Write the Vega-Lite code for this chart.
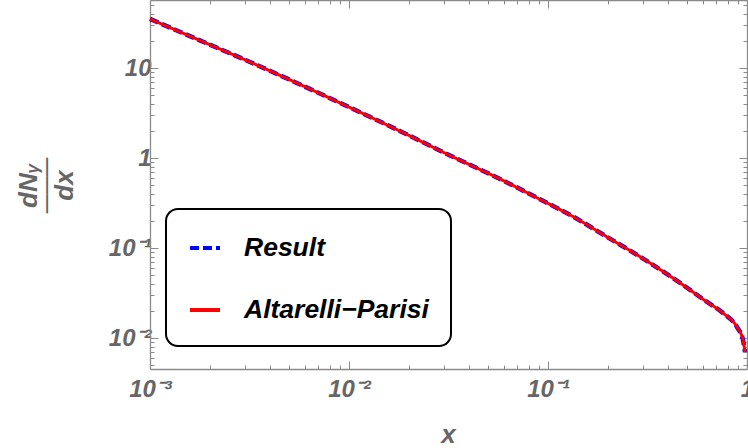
{
  "$schema": "https://vega.github.io/schema/vega-lite/v6.json",
  "width": 597,
  "height": 369,
  "autosize": {"type": "none"},
  "padding": {"left": 150, "top": 0, "right": 1, "bottom": 79},
  "background": "white",
  "config": {
    "view": {"stroke": null},
    "font": "Liberation Sans",
    "axis": {
      "grid": false,
      "domainColor": "#8a8a8a",
      "domainWidth": 1.3,
      "tickColor": "#8a8a8a",
      "tickWidth": 1,
      "labelFont": "Liberation Sans",
      "labelFontSize": 24,
      "labelFontStyle": "italic",
      "labelFontWeight": "bold",
      "labelColor": "#666666",
      "labelOverlap": false,
      "labelFlush": false,
      "titleFont": "Liberation Sans",
      "titleFontSize": 26,
      "titleFontStyle": "italic",
      "titleFontWeight": "bold",
      "titleColor": "#666666"
    },
    "legend": {"strokeWidth": 2}
  },
  "data": {
    "values": [
      {"x": 0.001, "y": 35.3, "series": "Result"},
      {"x": 0.00178, "y": 20.4, "series": "Result"},
      {"x": 0.00318, "y": 11.75, "series": "Result"},
      {"x": 0.00568, "y": 6.61, "series": "Result"},
      {"x": 0.0101, "y": 3.67, "series": "Result"},
      {"x": 0.018, "y": 2.01, "series": "Result"},
      {"x": 0.0322, "y": 1.074, "series": "Result"},
      {"x": 0.0574, "y": 0.589, "series": "Result"},
      {"x": 0.0912, "y": 0.35, "series": "Result"},
      {"x": 0.134, "y": 0.2244, "series": "Result"},
      {"x": 0.197, "y": 0.1346, "series": "Result"},
      {"x": 0.29, "y": 0.0807, "series": "Result"},
      {"x": 0.4266, "y": 0.0464, "series": "Result"},
      {"x": 0.627, "y": 0.0255, "series": "Result"},
      {"x": 0.757, "y": 0.0191, "series": "Result"},
      {"x": 0.891, "y": 0.0133, "series": "Result"},
      {"x": 0.955, "y": 0.00957, "series": "Result"},
      {"x": 0.977, "y": 0.00705, "series": "Result"},
      {"x": 0.001, "y": 35.3, "series": "Altarelli−Parisi"},
      {"x": 0.00178, "y": 20.4, "series": "Altarelli−Parisi"},
      {"x": 0.00318, "y": 11.75, "series": "Altarelli−Parisi"},
      {"x": 0.00568, "y": 6.61, "series": "Altarelli−Parisi"},
      {"x": 0.0101, "y": 3.67, "series": "Altarelli−Parisi"},
      {"x": 0.018, "y": 2.01, "series": "Altarelli−Parisi"},
      {"x": 0.0322, "y": 1.074, "series": "Altarelli−Parisi"},
      {"x": 0.0574, "y": 0.589, "series": "Altarelli−Parisi"},
      {"x": 0.0912, "y": 0.35, "series": "Altarelli−Parisi"},
      {"x": 0.134, "y": 0.2244, "series": "Altarelli−Parisi"},
      {"x": 0.197, "y": 0.1346, "series": "Altarelli−Parisi"},
      {"x": 0.29, "y": 0.0807, "series": "Altarelli−Parisi"},
      {"x": 0.4266, "y": 0.0464, "series": "Altarelli−Parisi"},
      {"x": 0.627, "y": 0.0255, "series": "Altarelli−Parisi"},
      {"x": 0.757, "y": 0.0191, "series": "Altarelli−Parisi"},
      {"x": 0.891, "y": 0.0133, "series": "Altarelli−Parisi"},
      {"x": 0.955, "y": 0.00957, "series": "Altarelli−Parisi"},
      {"x": 0.977, "y": 0.00705, "series": "Altarelli−Parisi"}
    ]
  },
  "layer": [
    {
      "transform": [{"filter": "datum.series === 'Result'"}],
      "mark": {"type": "line", "strokeOpacity": 0},
      "encoding": {
        "x": {"field": "x", "type": "quantitative",
          "scale": {"type": "log", "domain": [0.001, 1], "nice": false},
          "axis": {"orient": "bottom", "values": [0.002,0.003,0.004,0.005,0.006,0.007,0.008,0.009,0.02,0.03,0.04,0.05,0.06,0.07,0.08,0.09,0.2,0.3,0.4,0.5,0.6,0.7,0.8,0.9], "labels": false, "domain": false, "tickSize": -4, "title": null}},
        "y": {"field": "y", "type": "quantitative",
          "scale": {"type": "log", "domain": [0.00456, 57.3], "nice": false},
          "axis": {"orient": "left", "values": [0.005,0.006,0.007,0.008,0.009,0.02,0.03,0.04,0.05,0.06,0.07,0.08,0.09,0.2,0.3,0.4,0.5,0.6,0.7,0.8,0.9,2,3,4,5,6,7,8,9,20,30,40,50], "labels": false, "domain": false, "tickSize": -4, "title": null}}
      }
    },
    {
      "transform": [{"filter": "datum.series === 'Result'"}],
      "mark": {"type": "line", "strokeOpacity": 0},
      "encoding": {
        "x": {"field": "x", "type": "quantitative",
          "axis": {"orient": "top", "values": [0.002,0.003,0.004,0.005,0.006,0.007,0.008,0.009,0.02,0.03,0.04,0.05,0.06,0.07,0.08,0.09,0.2,0.3,0.4,0.5,0.6,0.7,0.8,0.9], "labels": false, "domain": false, "tickSize": -4, "title": null}},
        "y": {"field": "y", "type": "quantitative",
          "axis": {"orient": "right", "values": [0.005,0.006,0.007,0.008,0.009,0.02,0.03,0.04,0.05,0.06,0.07,0.08,0.09,0.2,0.3,0.4,0.5,0.6,0.7,0.8,0.9,2,3,4,5,6,7,8,9,20,30,40,50], "labels": false, "domain": false, "tickSize": -4, "title": null}}
      }
    },
    {
      "transform": [{"filter": "datum.series === 'Result'"}],
      "mark": {"type": "line", "strokeWidth": 4.5, "interpolate": "monotone"},
      "encoding": {
        "x": {"field": "x", "type": "quantitative",
          "axis": {"orient": "bottom", "values": [0.001, 0.01, 0.1, 1], "tickSize": -8, "labelPadding": 16,
            "labelExpr": "datum.value > 0.5 ? '1' : datum.value > 0.05 ? '10⁻¹' : datum.value > 0.005 ? '10⁻²' : '10⁻³'",
            "title": "x", "titleX": 298, "titleY": 73, "titleAlign": "center", "titleBaseline": "alphabetic"}},
        "y": {"field": "y", "type": "quantitative",
          "axis": {"orient": "left", "values": [0.01, 0.1, 1, 10], "tickSize": -8, "labelPadding": 7,
            "labelExpr": "datum.value > 5 ? '10' : datum.value > 0.5 ? '1' : datum.value > 0.05 ? '10⁻¹' : '10⁻²'",
            "title": ["dNᵧ", "───", "dx"], "titleX": -114, "titleY": 185, "titleAngle": -90, "titleAlign": "center", "titleBaseline": "alphabetic", "titleLineHeight": 18}},
        "color": {"field": "series", "type": "nominal",
          "scale": {"domain": ["Result", "Altarelli−Parisi"], "range": ["#0000ff", "#ff0000"]},
          "legend": {"orient": "none", "legendX": 16, "legendY": 209, "title": null, "direction": "vertical",
            "symbolType": "stroke", "symbolSize": 900, "symbolStrokeWidth": 4,
            "labelFont": "Liberation Sans", "labelFontSize": 26.5, "labelFontStyle": "italic", "labelFontWeight": "bold",
            "labelColor": "black", "labelOffset": 22, "labelLimit": 400, "rowPadding": 31, "padding": 22,
            "strokeColor": "black", "cornerRadius": 12, "fillColor": "white"}},
        "strokeDash": {"field": "series", "type": "nominal",
          "scale": {"domain": ["Result", "Altarelli−Parisi"], "range": [[9, 4], [1, 0]]},
          "legend": {"orient": "none", "legendX": 16, "legendY": 209, "title": null, "direction": "vertical",
            "symbolType": "stroke", "symbolSize": 900, "symbolStrokeWidth": 4,
            "labelFont": "Liberation Sans", "labelFontSize": 26.5, "labelFontStyle": "italic", "labelFontWeight": "bold",
            "labelColor": "black", "labelOffset": 22, "labelLimit": 400, "rowPadding": 31, "padding": 22,
            "strokeColor": "black", "cornerRadius": 12, "fillColor": "white"}}
      }
    },
    {
      "transform": [{"filter": "datum.series === 'Altarelli−Parisi'"}],
      "mark": {"type": "line", "strokeWidth": 3, "interpolate": "monotone"},
      "encoding": {
        "x": {"field": "x", "type": "quantitative",
          "axis": {"orient": "top", "values": [0.001, 0.01, 0.1, 1], "tickSize": -8, "labels": false, "title": null}},
        "y": {"field": "y", "type": "quantitative",
          "axis": {"orient": "right", "values": [0.01, 0.1, 1, 10], "tickSize": -8, "labels": false, "title": null}},
        "color": {"field": "series", "type": "nominal"},
        "strokeDash": {"field": "series", "type": "nominal"}
      }
    }
  ],
  "resolve": {"axis": {"x": "independent", "y": "independent"}}
}
